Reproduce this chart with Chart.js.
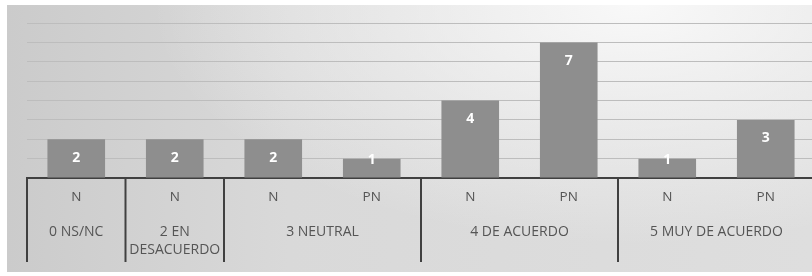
<!DOCTYPE html>
<html>
<head>
<meta charset="utf-8">
<script src="https://cdn.jsdelivr.net/npm/chart.js@4"></script>
<style>
    html, body { margin: 0; padding: 0; background: #ffffff; overflow: hidden; }
    .fondo {
        position: absolute; left: 7px; top: 5px; width: 805px; height: 267px;
        background:
            radial-gradient(ellipse 60% 90% at 78% 0%, rgba(250,250,250,0.95) 0%, rgba(250,250,250,0) 100%),
            linear-gradient(to right, #cbcbcb 0%, #d9d9d9 35%, #dedede 100%);
    }
    .zona { position: absolute; left: 0; top: 0; width: 818px; height: 276px; }
</style>
</head>
<body>
<div class="fondo"></div>
<div class="zona"><canvas id="grafico" width="818" height="276"></canvas></div>
<script>
// Datos del gráfico
const categorias = ['N', 'N', 'N', 'PN', 'N', 'PN', 'N', 'PN'];
const valores = [2, 2, 2, 1, 4, 7, 1, 3];
const grupos = ['0 NS/NC', ['2 EN', 'DESACUERDO'], '3 NEUTRAL', '4 DE ACUERDO', '5 MUY DE ACUERDO'];
const tamanoGrupos = [1, 1, 2, 2, 2];
const marcasY = [0, 1, 2, 3, 4, 5, 6, 7, 8];

const fuente = '"Open Sans", "Liberation Sans", sans-serif';

// Etiquetas de grupo y separadores bajo el eje
const pluginGrupos = {
    id: 'grupos',
    afterDraw(chart) {
        const ctx = chart.ctx;
        const x = chart.scales.x;
        const ejeY = chart.chartArea.bottom;
        const medio = (x.getPixelForValue(1) - x.getPixelForValue(0)) / 2;
        let inicio = 0;
        ctx.save();
        ctx.strokeStyle = '#404040';
        ctx.lineWidth = 2;
        ctx.fillStyle = '#555555';
        ctx.font = '14px ' + fuente;
        ctx.textAlign = 'center';
        ctx.textBaseline = 'middle';
        grupos.forEach((g, i) => {
            const fin = inicio + tamanoGrupos[i] - 1;
            const izq = x.getPixelForValue(inicio) - medio;
            ctx.beginPath();
            ctx.moveTo(izq, ejeY);
            ctx.lineTo(izq, ejeY + 84);
            ctx.stroke();
            const centro = (x.getPixelForValue(inicio) + x.getPixelForValue(fin)) / 2;
            const lineas = Array.isArray(g) ? g : [g];
            lineas.forEach((t, j) => ctx.fillText(t, centro, ejeY + 54 + j * 18));
            inicio = fin + 1;
        });
        ctx.restore();
    }
};

// Valores dentro de las barras
const pluginValores = {
    id: 'valores',
    afterDatasetsDraw(chart) {
        const ctx = chart.ctx;
        const meta = chart.getDatasetMeta(0);
        ctx.save();
        ctx.fillStyle = '#ffffff';
        ctx.font = 'bold 14px ' + fuente;
        ctx.textAlign = 'center';
        ctx.textBaseline = 'middle';
        meta.data.forEach((barra, i) => {
            const y = Math.min(barra.y + 18.5, barra.base - 17);
            ctx.fillText(String(valores[i]), barra.x, y);
        });
        ctx.restore();
    }
};

new Chart(document.getElementById('grafico'), {
    type: 'bar',
    data: {
        labels: categorias,
        datasets: [{
            data: valores,
            backgroundColor: '#8e8e8e',
            borderWidth: 0,
            categoryPercentage: 1,
            barPercentage: 0.585
        }]
    },
    options: {
        responsive: false,
        animation: false,
        layout: { padding: { left: 27, right: 3, top: 23, bottom: 8 } },
        plugins: {
            legend: { display: false },
            tooltip: { enabled: false }
        },
        scales: {
            x: {
                grid: { display: false, drawTicks: false },
                border: { display: true, color: '#404040', width: 2 },
                ticks: {
                    color: '#555555',
                    font: { family: fuente, size: 13.5 },
                    padding: 11,
                    maxRotation: 0,
                    autoSkip: false
                },
                afterFit(scale) { scale.height = 90; }
            },
            y: {
                min: marcasY[0],
                max: marcasY[marcasY.length - 1],
                afterBuildTicks(scale) { scale.ticks = marcasY.map(v => ({ value: v })); },
                ticks: { display: false },
                grid: { color: '#bdbdbd', lineWidth: 1, drawTicks: false },
                border: { display: false }
            }
        }
    },
    plugins: [pluginGrupos, pluginValores]
});
</script>
</body>
</html>
